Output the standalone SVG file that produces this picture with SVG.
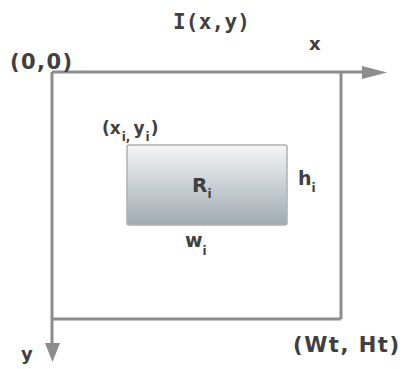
<svg xmlns="http://www.w3.org/2000/svg" width="402" height="369" viewBox="0 0 402 369">
<style>
.ln{stroke:#8c8c8c;stroke-width:3;fill:none}
.ah{fill:#8c8c8c}
.t{font-family:"DejaVu Sans","Liberation Sans",sans-serif;font-weight:bold;fill:#404040}
.m{font-family:"DejaVu Sans Mono","Liberation Mono",monospace;font-weight:bold;fill:#404040}
.s{font-size:12px}
</style>
<defs>
<linearGradient id="g" x1="0" y1="0" x2="0" y2="1">
<stop offset="0" stop-color="#f5f6f7"/>
<stop offset="1" stop-color="#9eabb3"/>
</linearGradient>
</defs>
<g id="connectors">
<line class="ln" x1="52" y1="72" x2="366" y2="72"/>
<polygon class="ah" points="362,66 387,72.5 362,79"/>
<line class="ln" x1="52" y1="72" x2="52" y2="345"/>
<polygon class="ah" points="45,343 52.5,362 60,343"/>
<line class="ln" x1="341" y1="72" x2="341" y2="319"/>
<line class="ln" x1="52" y1="319" x2="341" y2="319"/>
</g>
<g id="image">
<text class="m" x="173" y="29" font-size="21" textLength="77">I(x,y)</text>
<text class="t" x="309" y="50" font-size="18">x</text>
<text class="t" x="21" y="360" font-size="18">y</text>
<text class="t" x="10" y="69" font-size="21" textLength="62">(0,0)</text>
<text class="t" x="293" y="352" font-size="21" textLength="106">(Wt, Ht)</text>
</g>
<g id="rect">
<rect x="127" y="145" width="160" height="80" rx="2" fill="url(#g)" stroke="#b0b0b0" stroke-width="1.5"/>
<text class="t" x="192" y="192" font-size="20">R<tspan class="s" dy="6">i</tspan></text>
<text class="t" x="102" y="134" font-size="17">(x<tspan class="s" dx="1" dy="7">i,</tspan><tspan dx="3" dy="-7">y</tspan><tspan class="s" dx="1" dy="7">i</tspan><tspan dx="1" dy="-7">)</tspan></text>
<text class="t" x="298" y="185" font-size="19">h<tspan class="s" dy="7">i</tspan></text>
<text class="t" x="185" y="247" font-size="19">w<tspan class="s" dy="8">i</tspan></text>
</g>
</svg>
